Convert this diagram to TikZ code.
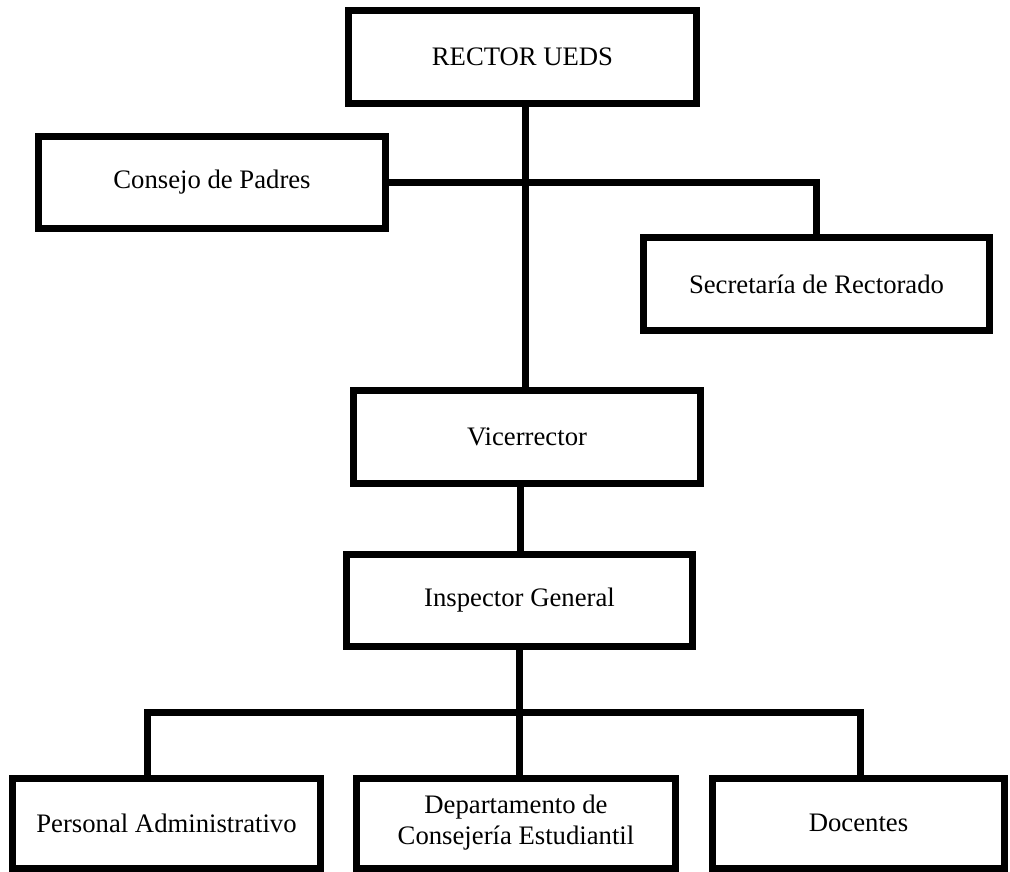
\documentclass[tikz,border=0pt]{standalone}
\usepackage{fontspec}
\setmainfont{Liberation Serif}
\usepackage{tikz}
\usetikzlibrary{positioning}

\begin{document}
\begin{tikzpicture}[x=1pt, y=-1pt,
  caja/.style={draw, line width=7pt, minimum height=93pt, align=center,
    font=\fontsize{26.7}{31}\selectfont},
  linea/.style={line width=7pt}]
\useasboundingbox (0,0) rectangle (1010,872);
\node(rector) [caja, minimum width=348pt] at (522.5,57) {RECTOR UEDS};
\node(consejo) [caja, minimum width=347pt, minimum height=92pt] at (212,182.5) {Consejo de Padres};
\node(secretaria) [caja, minimum width=346pt] at (816.5,284) {Secretar\'ia de Rectorado};
\node(vice) [caja, minimum width=347pt] at (527,437) {Vicerrector};
\node(insp) [caja, minimum width=346pt, minimum height=92pt] at (519.5,600.5) {Inspector General};
\node(personal) [caja, minimum width=308pt, minimum height=90pt] at (166.5,823) {Personal Administrativo};
\node(depto) [caja, minimum width=319pt, minimum height=90pt] at (516,823) {Departamento de\\Consejer\'ia Estudiantil};
\node(docentes) [caja, minimum width=292pt, minimum height=90pt] at (858.5,823) {Docentes};
% ejes de los conectores
\coordinate(eje) at (525,0);
\coordinate(eje2) at (520,0);
\coordinate(rama) at (519,712);
\coordinate(r1) at (147,712);
\coordinate(r3) at (860,712);
\draw[linea] (rector.south -| eje) -- (vice.north -| eje);
\draw[linea] (consejo.east) -- (secretaria.north |- consejo.east) -- (secretaria.north);
\draw[linea] (vice.south -| eje2) -- (insp.north -| eje2);
\draw[linea] (insp.south -| rama) -- (rama |- depto.north);
\draw[linea] (r1 |- personal.north) -- (r1) -- (r3) -- (r3 |- docentes.north);
\end{tikzpicture}
\end{document}
